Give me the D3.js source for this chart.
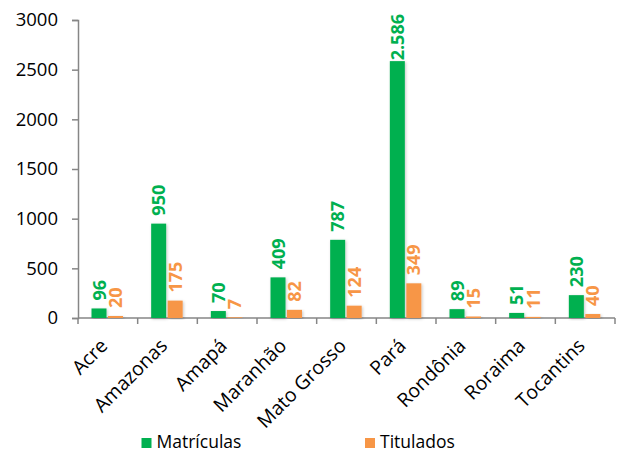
<!DOCTYPE html>
<html><head><meta charset="utf-8">
<script src="https://cdn.jsdelivr.net/npm/d3@7"></script>
<style>body{margin:0;background:#fff}svg{display:block}text{font-family:"Open Sans","Liberation Sans",sans-serif}</style>
</head><body><svg id="c" width="617" height="452"></svg>
<script>
const categories = ["Acre","Amazonas","Amapá","Maranhão","Mato Grosso","Pará","Rondônia","Roraima","Tocantins"];
const matriculas = [96,950,70,409,787,2586,89,51,230];
const titulados = [20,175,7,82,124,349,15,11,40];
const seriesNames = ["Matrículas","Titulados"];
const colors = ["#00B050","#F79646"];
const yTicks = [0,500,1000,1500,2000,2500,3000];

(function(){
const svg = d3.select("#c");
const defs = svg.append("defs");
const f = defs.append("filter").attr("id","sh").attr("x","-30%").attr("y","-10%").attr("width","160%").attr("height","120%");
f.append("feDropShadow").attr("dx",1).attr("dy",1).attr("stdDeviation",1.5).attr("flood-color","#000").attr("flood-opacity",0.22);

const mL = 78, mR = 615, mT = 20, mB = 318;
const x = d3.scaleBand().domain(categories).range([mL,mR]);
const y = d3.scaleLinear().domain([0,3000]).range([mB,mT]);
const barW = 15, gap = 1.5, pad = 13.5;
const fmt = v => v >= 1000 ? d3.format(",")(v).replace(/,/g,".") : String(v);

const ya = svg.append("g").attr("transform",`translate(${mL},0)`)
  .call(d3.axisLeft(y).tickValues(yTicks).tickSize(6).tickPadding(14).tickFormat(d=>d));
ya.select(".domain").attr("stroke","#868686").attr("stroke-width",1.5);
ya.selectAll(".tick line").attr("stroke","#868686").attr("stroke-width",1.5);
ya.selectAll(".tick text").attr("font-size",18.5).attr("fill","#000").attr("font-family",null);

const xa = svg.append("g").attr("transform",`translate(0,${mB})`);
xa.append("line").attr("x1",mL).attr("x2",mR).attr("stroke","#868686").attr("stroke-width",1.5);
const bounds = categories.map(c=>x(c)).concat([mR]);
xa.selectAll("line.t").data(bounds).join("line").attr("class","t")
  .attr("x1",d=>d).attr("x2",d=>d).attr("y1",0).attr("y2",6).attr("stroke","#868686").attr("stroke-width",1.5);
xa.selectAll("text").data(categories).join("text")
  .attr("transform",d=>`translate(${x(d)+x.bandwidth()/2+1},${29}) rotate(-45)`)
  .attr("text-anchor","end").attr("font-size",19.5).attr("fill","#000").text(d=>d);

const series = [matriculas, titulados];
series.forEach((vals,si)=>{
  const g = svg.append("g");
  g.selectAll("rect").data(categories).join("rect")
    .attr("x",c=>x(c)+pad+si*(barW+gap)).attr("width",barW)
    .attr("y",(c,i)=>y(vals[i])).attr("height",(c,i)=>mB-y(vals[i]))
    .attr("fill",colors[si]).attr("filter","url(#sh)");
  g.selectAll("text").data(categories).join("text")
    .attr("font-size",18).attr("font-weight","bold").attr("fill",colors[si])
    .text((c,i)=>fmt(vals[i]))
    .each(function(c,i){
      const len = this.getComputedTextLength();
      let sy = y(vals[i]) - 8;
      if (sy - len < 14) sy = 14 + len;
      const cx = x(c)+pad+si*(barW+gap)+barW/2 + 6.5;
      d3.select(this).attr("transform",`translate(${cx},${sy}) rotate(-90)`);
    });
});

const leg = [[141.5,"Matrículas"],[365,"Titulados"]];
leg.forEach((l,i)=>{
  svg.append("rect").attr("x",l[0]).attr("y",438).attr("width",10).attr("height",10).attr("fill",colors[i]);
  svg.append("text").attr("x",l[0]+15).attr("y",448).attr("font-size",17.5).attr("fill","#000").text(seriesNames[i]);
});
})();
</script></body></html>
